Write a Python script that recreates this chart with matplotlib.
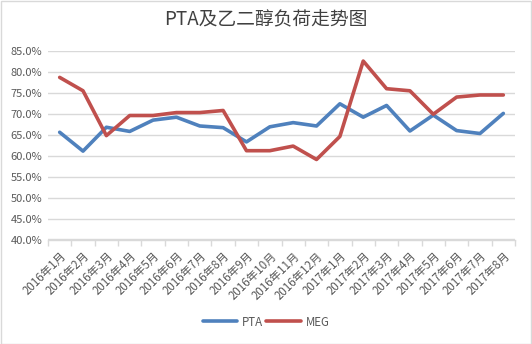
import matplotlib
matplotlib.use("Agg")
import matplotlib.pyplot as plt
from matplotlib.patches import Rectangle
import numpy as np

plt.rcParams['font.family'] = ['Noto Sans CJK SC', 'DejaVu Sans']

categories = ["2016年1月", "2016年2月", "2016年3月", "2016年4月", "2016年5月", "2016年6月",
              "2016年7月", "2016年8月", "2016年9月", "2016年10月", "2016年11月", "2016年12月",
              "2017年1月", "2017年2月", "2017年3月", "2017年4月", "2017年5月", "2017年6月",
              "2017年7月", "2017年8月"]
pta = [65.6, 61.1, 66.8, 65.8, 68.5, 69.2, 67.1, 66.7, 63.3, 66.9, 67.9, 67.1,
       72.4, 69.2, 72.0, 65.9, 69.7, 66.0, 65.3, 70.1]
meg = [78.7, 75.5, 64.8, 69.6, 69.6, 70.3, 70.3, 70.8, 61.2, 61.2, 62.3, 59.1,
       64.6, 82.6, 76.0, 75.5, 69.9, 74.0, 74.5, 74.5]
yticks = [40, 45, 50, 55, 60, 65, 70, 75, 80, 85]

W, H = 532, 344
fig = plt.figure(figsize=(W / 100, H / 100), dpi=100)
fig.patches.append(Rectangle((0.5 / W, 0.5 / H), 1 - 1.5 / W, 1 - 1.5 / H, transform=fig.transFigure,
                             fill=False, edgecolor='#D9D9D9', linewidth=1))

ax = fig.add_axes([48 / W, 1 - 239.5 / H, (515 - 48) / W, (239.5 - 51) / H])
x = np.arange(len(categories))
ax.plot(x, pta, color='#4F81BD', linewidth=2.6, label='PTA', solid_capstyle='round')
ax.plot(x, meg, color='#C0504D', linewidth=2.6, label='MEG', solid_capstyle='round')

ax.set_xlim(-0.5, len(categories) - 0.5)
ax.set_ylim(40, 85)
ax.set_yticks(yticks)
ax.set_yticklabels([f"{v:.1f}%" for v in yticks])
ax.grid(axis='y', color='#D9D9D9', linewidth=1)
ax.set_axisbelow(True)
for s in ['left', 'right', 'top']:
    ax.spines[s].set_visible(False)
ax.spines['bottom'].set_color('#D9D9D9')
ax.spines['bottom'].set_linewidth(1)

ax.set_xticks(x)
ax.set_xticklabels(categories, rotation=45, ha='right', rotation_mode='anchor')
ax.set_xticks(np.arange(-0.5, len(categories)), minor=True)
ax.tick_params(axis='x', which='major', length=0, pad=7, labelsize=8.3, labelcolor='#595959')
ax.tick_params(axis='x', which='minor', length=4, color='#D9D9D9', width=1)
ax.tick_params(axis='y', length=0, pad=4, labelsize=8, labelcolor='#595959')

fig.text(0.5, 1 - 20 / H, 'PTA及乙二醇负荷走势图', ha='center', va='center', fontsize=13.5, color='#404040')

leg = fig.legend(loc='center', bbox_to_anchor=(0.5, 1 - 322 / H), ncol=2, frameon=False,
                 fontsize=8.3, handlelength=3.0, columnspacing=0.3, handletextpad=0.4,
                 labelcolor='#595959')

fig.savefig('out.png', dpi=100)
